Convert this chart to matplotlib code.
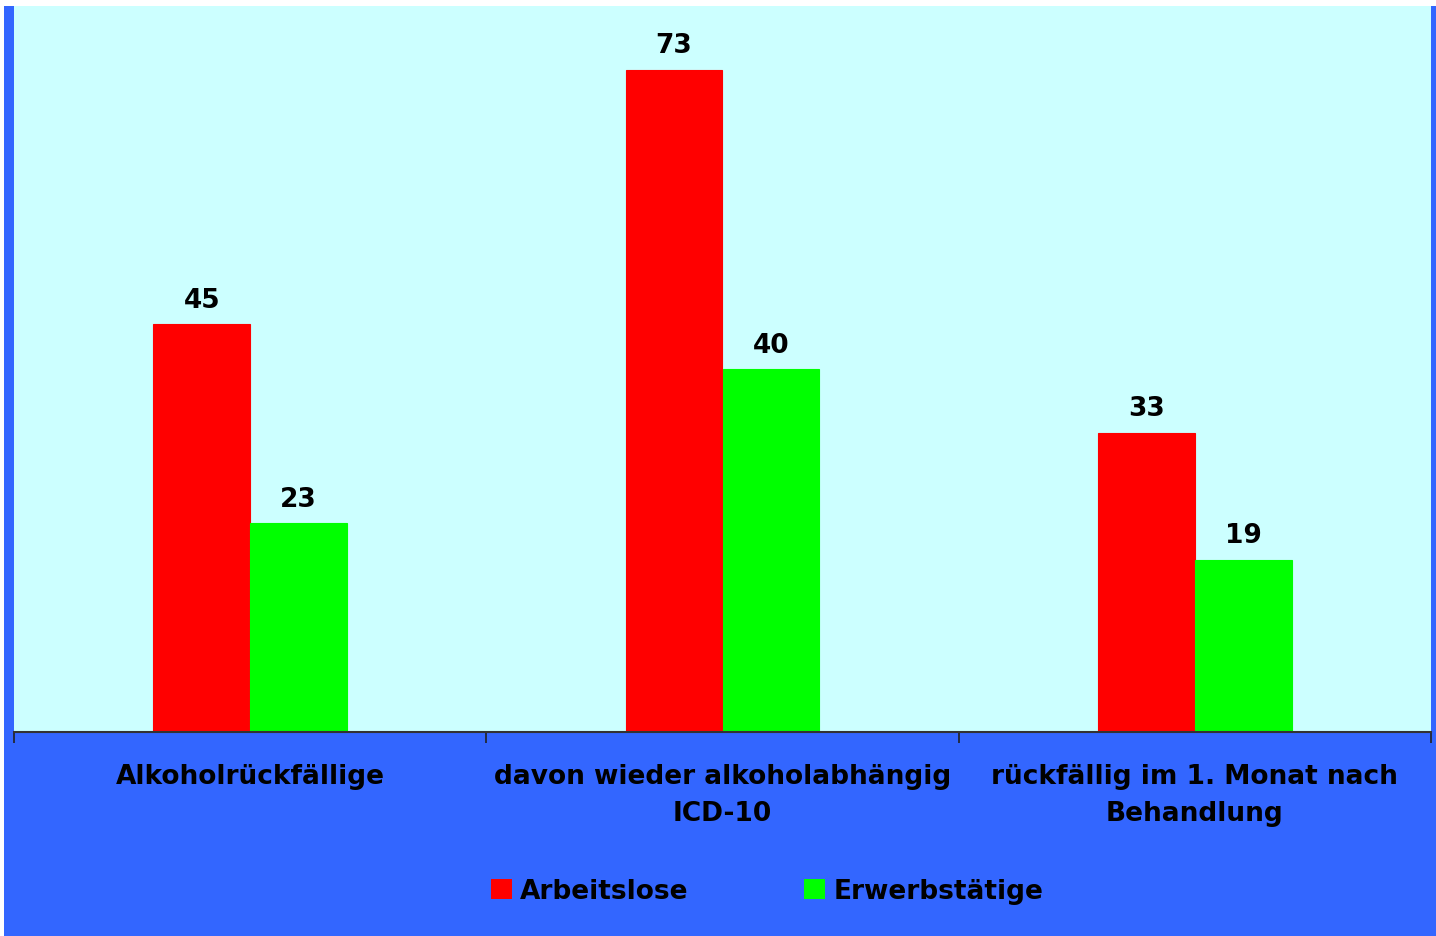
import matplotlib
matplotlib.use("Agg")
import matplotlib.pyplot as plt
from matplotlib.patches import Rectangle, Patch
import numpy as np

categories = ["Alkoholrückfällige", "davon wieder alkoholabhängig\nICD-10", "rückfällig im 1. Monat nach\nBehandlung"]
series_names = ["Arbeitslose", "Erwerbstätige"]
arbeitslose = [45, 73, 33]
erwerbstaetige = [23, 40, 19]
colors = ["#FF0000", "#00FF00"]

W, H = 1436, 937
fig = plt.figure(figsize=(W / 100, H / 100), dpi=100, facecolor="white")
fig.patches.append(Rectangle((4 / W, 0), (W - 4) / W, (H - 7) / H, transform=fig.transFigure,
                             facecolor="#3366FF", edgecolor="none", zorder=-10))

ax = fig.add_axes([14 / W, (H - 733) / H, (1431 - 14) / W, (733 - 7) / H])
ax.set_zorder(1)
ax.set_facecolor("#CCFFFF")

x = np.arange(len(categories))
bw = 0.205
b1 = ax.bar(x - bw / 2, arbeitslose, bw, color=colors[0], edgecolor=colors[0],
            linewidth=0.8, zorder=2)
b2 = ax.bar(x + bw / 2, erwerbstaetige, bw, color=colors[1], edgecolor=colors[1],
            linewidth=0.8, zorder=2)

fs = 19
for bars, vals in ((b1, arbeitslose), (b2, erwerbstaetige)):
    for rect, v in zip(bars, vals):
        ax.annotate(f"{v}", (rect.get_x() + rect.get_width() / 2, v), xytext=(0, 8),
                    textcoords="offset points", ha="center", va="bottom",
                    fontsize=fs, fontweight="bold", color="black")

ax.set_xlim(-0.5, len(categories) - 0.5)
ax.set_ylim(0, 80)
for s in ("top", "right", "left"):
    ax.spines[s].set_visible(False)
ax.spines["bottom"].set_color("#333333")
ax.spines["bottom"].set_linewidth(1.5)
ax.spines["bottom"].set_zorder(3)
ax.set_yticks([])

ax.set_xticks(x)
ax.set_xticklabels(categories, fontsize=fs, fontweight="bold", linespacing=1.55)
ax.tick_params(axis="x", which="major", length=0, pad=22)
ax.set_xticks(np.arange(-0.5, len(categories)), minor=True)
ax.tick_params(axis="x", which="minor", length=8, width=1.2, color="#222222", direction="out")

handles = [Patch(facecolor=c, edgecolor="none") for c in colors]
fig.legend(handles, series_names, loc="center", bbox_to_anchor=(767 / W, (H - 892) / H),
           ncol=2, frameon=False, prop={"size": fs, "weight": "bold"},
           handlelength=0.8, handleheight=0.8, handletextpad=0.3, columnspacing=4.4)

fig.savefig("out.png", dpi=100, facecolor="white")
